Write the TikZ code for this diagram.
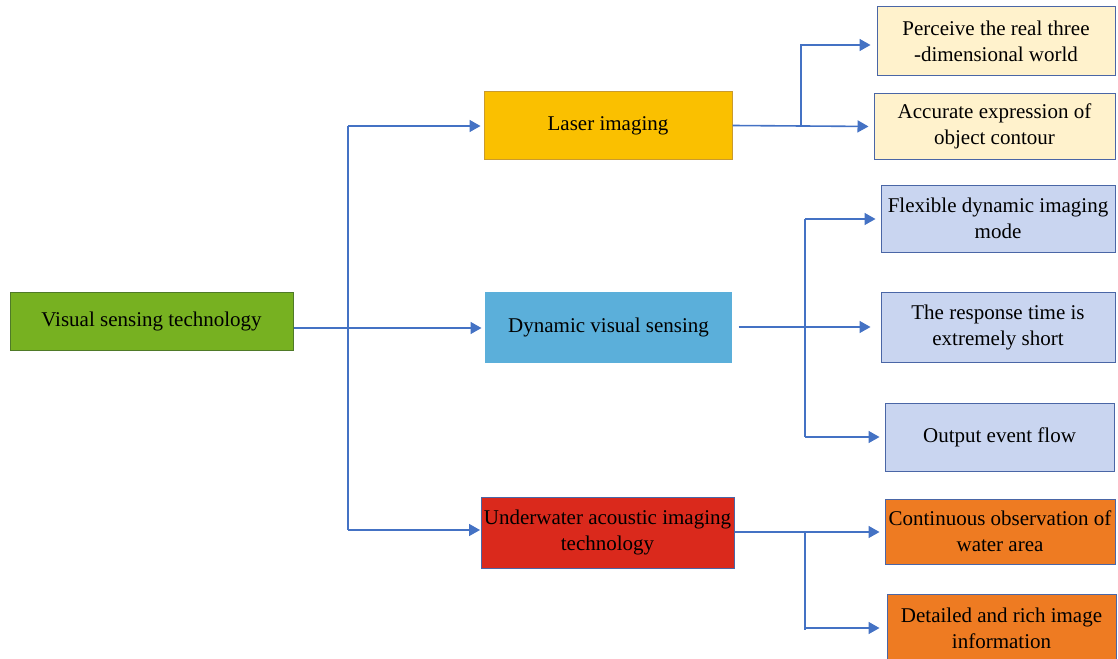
\documentclass[tikz,border=0pt]{standalone}
\usepackage{fontspec}
\setmainfont{Liberation Serif}
\usetikzlibrary{arrows.meta}
\definecolor{lineblue}{HTML}{4472C4}
\definecolor{greenfill}{HTML}{77B121}
\definecolor{greenline}{HTML}{4F7A28}
\definecolor{yellowfill}{HTML}{FAC000}
\definecolor{yellowline}{HTML}{C99A2E}
\definecolor{dynfill}{HTML}{5BAFDA}
\definecolor{redfill}{HTML}{DA291C}
\definecolor{paleyellow}{HTML}{FFF2CC}
\definecolor{paleblue}{HTML}{C9D5F0}
\definecolor{orangefill}{HTML}{EE7B22}
\definecolor{boxblue}{HTML}{4A66A6}
\begin{document}
\begin{tikzpicture}[x=1pt,y=-1pt,
  box/.style={rectangle, inner sep=1pt, align=center, line width=1pt,
    font=\fontsize{21}{26}\selectfont, text=black},
  conn/.style={draw=lineblue, line width=1.6pt},
  arr/.style={conn, -{Triangle[length=11pt,width=12pt]}, shorten >=3pt}]
\useasboundingbox (0,0) rectangle (1118,658);
\clip (0,0) rectangle (1118,658);
% main nodes
\node[box, fill=greenfill, draw=greenline, minimum width=283pt, minimum height=58pt] (vis) at (151.5,321) {Visual sensing technology};
\node[box, fill=yellowfill, draw=yellowline, minimum width=248pt, minimum height=67pt] (laser) at (608,125.5) {Laser imaging};
\node[box, fill=dynfill, minimum width=247pt, minimum height=71pt] (dyn) at (608.5,327.5) {Dynamic visual sensing};
\node[box, fill=redfill, draw=boxblue, minimum width=253pt, minimum height=71pt] (under) at (607.5,532.5) {Underwater acoustic imaging\\technology};
% leaves
\node[box, fill=paleyellow, draw=boxblue, minimum width=238pt, minimum height=69pt] (perc) at (996,41.5) {Perceive the real three\\-dimensional world};
\node[box, fill=paleyellow, draw=boxblue, minimum width=241pt, minimum height=65pt] (acc) at (994.5,126.5) {Accurate expression of\\object contour};
\node[box, fill=paleblue, draw=boxblue, minimum width=234pt, minimum height=67pt] (flex) at (998,218.5) {Flexible dynamic imaging\\mode};
\node[box, fill=paleblue, draw=boxblue, minimum width=234pt, minimum height=70pt] (resp) at (998,327) {The response time is\\extremely short};
\node[box, fill=paleblue, draw=boxblue, minimum width=229pt, minimum height=68pt] (outp) at (999.5,437) {Output event flow};
\node[box, fill=orangefill, draw=boxblue, minimum width=230pt, minimum height=65pt] (cont) at (1000,531.5) {Continuous observation of\\water area};
\node[box, fill=orangefill, draw=boxblue, minimum width=229pt, minimum height=68pt] (det) at (1001.5,628) {Detailed and rich image\\information};
% trunk from main node
\coordinate (t1) at (348,126);
\coordinate (t2) at (348,530);
\coordinate (m1) at (348,328);
\draw[conn] (t1) -- (t2);
\draw[arr] (vis.east |- m1) -- (dyn.west |- m1);
\draw[arr] (t1) -- (t1 -| laser.west);
\draw[arr, shorten >=0.5pt] (t2) -- (t2 -| under.west);
% laser branch
\coordinate (b1) at (801,126);
\coordinate (p1) at (801,45);
\draw[arr, shorten >=5pt] (laser.east) -- (acc.west);
\draw[arr, shorten >=6pt] (b1) -- (p1) -- (p1 -| perc.west);
% dynamic branch
\coordinate (d1) at (805,219);
\coordinate (d2) at (805,437);
\draw[arr, shorten <=6pt, shorten >=10pt] (dyn.east |- resp.west) -- (resp.west);
\draw[conn] (d1) -- (d2);
\draw[arr, shorten >=5pt] (d1) -- (d1 -| flex.west);
\draw[arr, shorten >=5pt] (d2) -- (d2 -| outp.west);
% underwater branch
\coordinate (u1) at (805,532);
\coordinate (u2) at (805,630);
\coordinate (u3) at (805,628);
\draw[arr, shorten >=5pt] (under.east |- u1) -- (u1 -| cont.west);
\draw[conn] (u1) -- (u2);
\draw[arr, shorten >=7pt] (u3) -- (u3 -| det.west);
\end{tikzpicture}
\end{document}
